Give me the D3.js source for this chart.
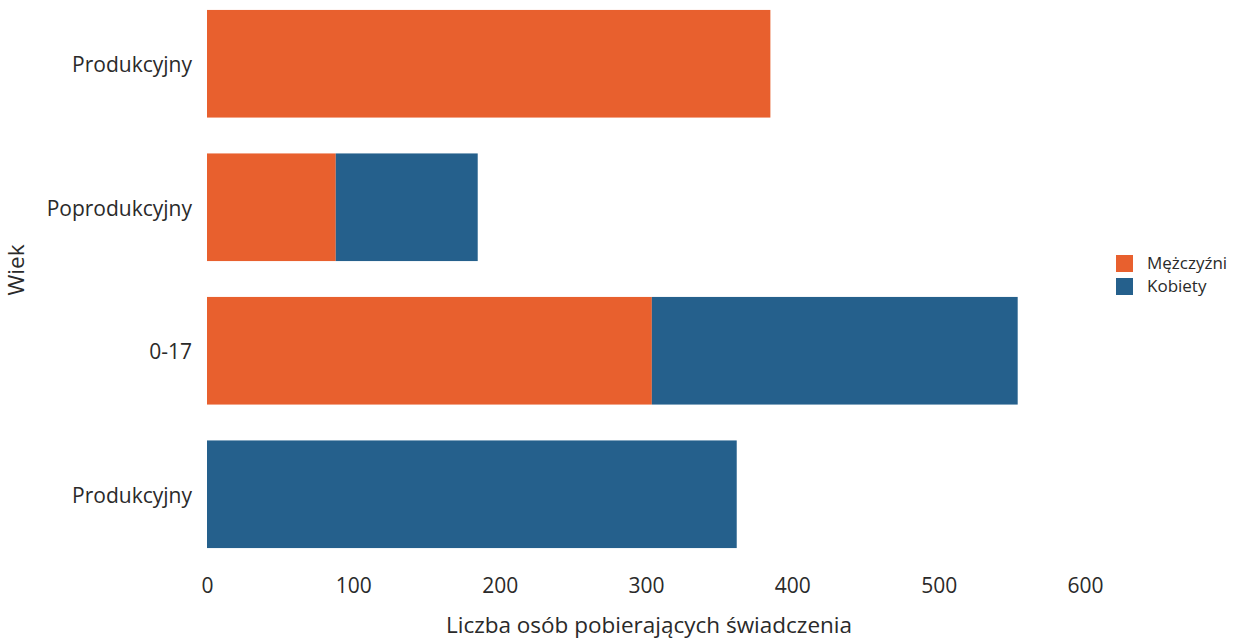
<!DOCTYPE html>
<html><head><meta charset="utf-8">
<script src="https://cdn.jsdelivr.net/npm/d3@7"></script>
<style>body{margin:0;background:#fff}svg{display:block;font-family:"Open Sans",sans-serif}</style>
</head><body><svg id="c" width="1249" height="643"></svg>
<script>
const categories = ["prodM", "poprod", "0-17", "prodK"];
const categoryLabels = ["Produkcyjny", "Poprodukcyjny", "0-17", "Produkcyjny"];
const series = ["Mężczyźni", "Kobiety"];
const men   = [385, 88, 304, 0];
const women = [0, 97, 250, 362];
const xTicks = [0, 100, 200, 300, 400, 500, 600];
const colors = ["#e8602e", "#25608c"];

const svg = d3.select("#c");
const x = d3.scaleLinear().domain([0, 600]).range([207, 1085]);
const y = d3.scaleBand().domain(categories).range([-8, 566]).paddingInner(0.25).paddingOuter(0.125);

const rows = categories.map((c, i) => ({c, M: men[i], K: women[i]}));
const stack = d3.stack().keys(["M", "K"])(rows);

svg.append("g").selectAll("g").data(stack).join("g")
  .attr("fill", (d, i) => colors[i])
  .selectAll("rect").data(d => d.filter(p => p[1] > p[0])).join("rect")
  .attr("x", d => x(d[0])).attr("width", d => x(d[1]) - x(d[0]))
  .attr("y", d => y(d.data.c)).attr("height", y.bandwidth());

const xa = svg.append("g").attr("transform", "translate(0,586)")
  .call(d3.axisBottom(x).tickValues(xTicks).tickSize(0).tickPadding(0));
xa.select(".domain").remove();
xa.selectAll("text").attr("font-size", 21).attr("fill", "#2a2a2a").attr("font-family", "Open Sans").attr("dy", "0.35em");

const ya = svg.append("g").attr("transform", "translate(192,2)")
  .call(d3.axisLeft(y).tickFormat((d, i) => categoryLabels[i]).tickSize(0).tickPadding(0));
ya.select(".domain").remove();
ya.selectAll("text").attr("font-size", 21).attr("fill", "#2a2a2a").attr("font-family", "Open Sans");

svg.append("text").attr("x", 649).attr("y", 633).attr("text-anchor", "middle")
  .attr("font-size", 22.5).attr("fill", "#2a2a2a").text("Liczba osób pobierających świadczenia");
svg.append("text").attr("transform", "translate(24,270) rotate(-90)").attr("text-anchor", "middle")
  .attr("font-size", 22.5).attr("fill", "#2a2a2a").text("Wiek");

const lg = svg.append("g").selectAll("g").data(series).join("g")
  .attr("transform", (d, i) => `translate(1116,${255 + i * 23})`);
lg.append("rect").attr("width", 17).attr("height", 17).attr("fill", (d, i) => colors[i]);
lg.append("text").attr("x", 31).attr("y", 8.5).attr("dy", "0.35em").attr("font-size", 17).attr("fill", "#2a2a2a").text(d => d);
</script></body></html>
